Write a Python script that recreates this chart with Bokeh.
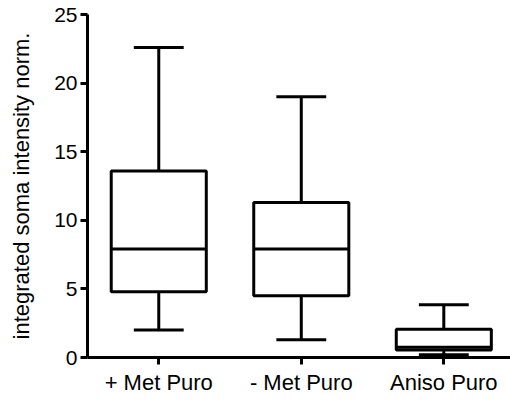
from bokeh.plotting import figure
from bokeh.models import FixedTicker, ColumnDataSource
from bokeh.embed import file_html
from bokeh.resources import INLINE

categories = ["+ Met Puro", "- Met Puro", "Aniso Puro"]
whisker_low = [2.0, 1.3, 0.2]
q1 = [4.8, 4.5, 0.55]
median = [7.9, 7.9, 0.75]
q3 = [13.6, 11.3, 2.05]
whisker_high = [22.6, 19.0, 3.85]
y_ticks = [0, 5, 10, 15, 20, 25]

xs = [i + 1 for i in range(len(categories))]
box_w = 0.667
cap_w = 0.35

src = ColumnDataSource(dict(
    x=xs, lo=whisker_low, q1=q1, med=median, q3=q3, hi=whisker_high,
    left=[x - box_w / 2 for x in xs], right=[x + box_w / 2 for x in xs],
    cl=[x - cap_w / 2 for x in xs], cr=[x + cap_w / 2 for x in xs],
))

p = figure(width=510, height=403, output_backend="svg", toolbar_location=None,
           x_range=(0.5, 3.468), y_range=(0, 25),
           min_border_left=87, min_border_right=0, min_border_top=14, min_border_bottom=46)
p.outline_line_color = None
p.grid.visible = False

lw = 3
# whiskers
p.segment(x0="x", y0="q3", x1="x", y1="hi", source=src, line_color="black", line_width=lw)
p.segment(x0="x", y0="lo", x1="x", y1="q1", source=src, line_color="black", line_width=lw)
p.segment(x0="cl", y0="hi", x1="cr", y1="hi", source=src, line_color="black", line_width=lw)
p.segment(x0="cl", y0="lo", x1="cr", y1="lo", source=src, line_color="black", line_width=lw)
# boxes
p.quad(left="left", right="right", bottom="q1", top="q3", source=src,
       fill_color="white", line_color="black", line_width=lw)
p.segment(x0="left", y0="med", x1="right", y1="med", source=src, line_color="black", line_width=lw)

font = "Liberation Sans"
p.yaxis.ticker = FixedTicker(ticks=y_ticks)
p.xaxis.ticker = FixedTicker(ticks=xs)
p.xaxis.major_label_overrides = {x: c for x, c in zip(xs, categories)}
p.yaxis.axis_label = "integrated soma intensity norm."
for ax in (p.xaxis, p.yaxis):
    ax.axis_line_width = lw
    ax.axis_line_color = "black"
    ax.major_tick_line_width = lw
    ax.major_tick_line_color = "black"
    ax.major_tick_out = 7
    ax.major_tick_in = 0
    ax.minor_tick_line_color = None
    ax.major_label_text_font = font
    ax.major_label_text_font_size = "21px"
    ax.major_label_text_color = "black"
    ax.axis_label_text_font = font
    ax.axis_label_text_font_size = "22px"
    ax.axis_label_text_font_style = "normal"
    ax.axis_label_text_color = "black"
p.xaxis.major_label_text_font_size = "22px"
p.yaxis.major_label_standoff = 3
p.xaxis.major_label_standoff = 5
p.yaxis.axis_label_standoff = 17

open("out.html", "w").write(file_html(p, INLINE))
